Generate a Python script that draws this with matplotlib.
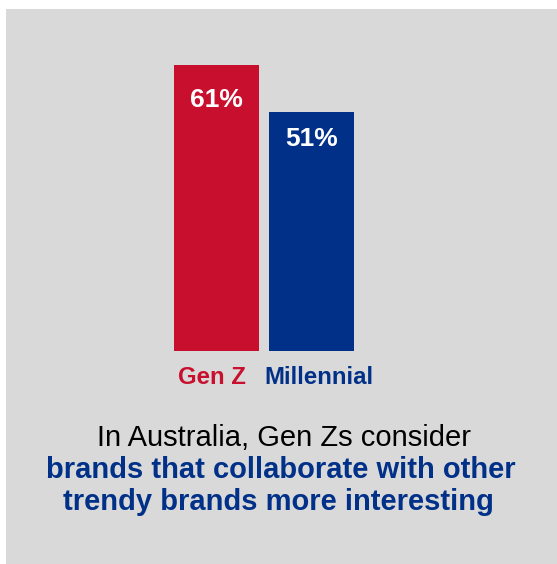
import matplotlib
matplotlib.use("Agg")
import matplotlib.pyplot as plt

# survey share by generation
groups = ["Gen Z", "Millennial"]
shares = [61, 51]
value_labels = ["61%", "51%"]
caption_plain = "In Australia, Gen Zs consider"
caption_bold = ["brands that collaborate with other",
                "trendy brands more interesting"]

RED = "#c8102e"
BLUE = "#003087"
GREY = "#d9d9d9"
W, H = 557, 564
DPI = 100

plt.rcParams["font.family"] = ["Liberation Sans", "DejaVu Sans"]

fig = plt.figure(figsize=(W / DPI, H / DPI), dpi=DPI, facecolor="white")

# grey panel, pixel box (6, 9) .. (557, 564)
px_left, px_top = 6, 9
ax = fig.add_axes([px_left / W, 0, (W - px_left) / W, (H - px_top) / H])
ax.set_facecolor(GREY)
for s in ax.spines.values():
    s.set_visible(False)
ax.set_xticks([])
ax.set_yticks([])

# bar geometry in pixels: baseline at y=351, 4.69 px per percent,
# first bar centre at x=216.5, bar pitch 95 px, bar width 85 px
base_px, per_unit = 351, 4.69
pitch, centre0 = 95.0, 216.5
ax.set_ylim(-(H - base_px) / per_unit, (base_px - px_top) / per_unit)
xmin = -(centre0 - px_left) / pitch
ax.set_xlim(xmin, xmin + (W - px_left) / pitch)

colors = [RED, BLUE]
xs = list(range(len(groups)))
ax.bar(xs, shares, width=85 / pitch, color=colors)

# values inside the top of each bar
for x, v, lab, off in zip(xs, shares, value_labels, [-35, -27]):
    ax.annotate(lab, (x, v), xytext=(0, off * 72 / DPI), textcoords="offset points",
                ha="center", va="center", color="white", fontsize=19,
                fontweight="bold")


def fx(px):
    return px / W


def fy(py):
    return 1 - py / H


# category names under the bars
fig.text(fx(211.5), fy(384), groups[0], ha="center", va="baseline",
         color=RED, fontsize=17.3, fontweight="bold")
fig.text(fx(318.5), fy(384), groups[1], ha="center", va="baseline",
         color=BLUE, fontsize=17.3, fontweight="bold")

# caption
fig.text(fx(284), fy(446.5), caption_plain, ha="center", va="baseline",
         color="black", fontsize=21)
fig.text(fx(281), fy(478), caption_bold[0], ha="center", va="baseline",
         color=BLUE, fontsize=21, fontweight="bold")
fig.text(fx(278), fy(510), caption_bold[1], ha="center", va="baseline",
         color=BLUE, fontsize=21, fontweight="bold")

fig.savefig("out.png", dpi=DPI, facecolor="white")
